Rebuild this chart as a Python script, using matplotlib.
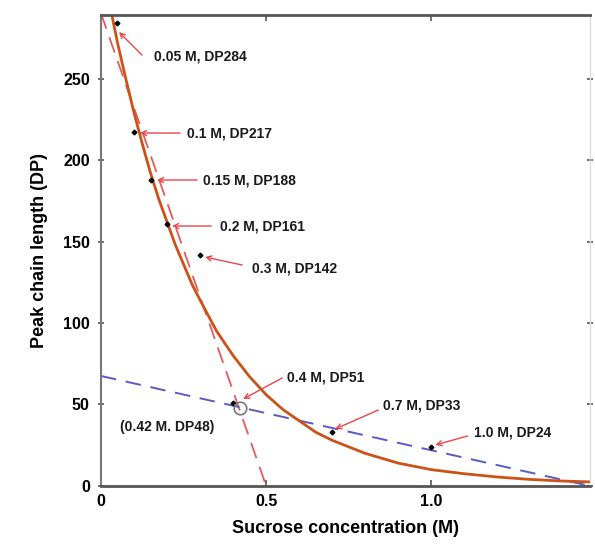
import numpy as np
import matplotlib.pyplot as plt

plt.rcParams['font.family'] = ['Liberation Sans', 'DejaVu Sans']
plt.rcParams['font.weight'] = 'bold'

# measured points (sucrose M, peak DP)
conc = [0.05, 0.1, 0.15, 0.2, 0.3, 0.4, 0.7, 1.0]
dp = [284, 217, 188, 161, 142, 51, 33, 24]
labels = ['0.05 M, DP284', '0.1 M, DP217', '0.15 M, DP188', '0.2 M, DP161',
          '0.3 M, DP142', '0.4 M, DP51', '0.7 M, DP33', '1.0 M, DP24']

# exponential trend
curve_x = [0.03, 0.05, 0.075, 0.1, 0.125, 0.15, 0.175, 0.2, 0.225, 0.25,
           0.275, 0.3, 0.35, 0.4, 0.45, 0.5, 0.55, 0.6, 0.65, 0.7, 0.75,
           0.8, 0.9, 1.0, 1.1, 1.2, 1.3, 1.4, 1.48]
curve_y = [292, 272, 250, 229, 210, 192, 176, 162, 148, 136,
           124, 114, 95, 80, 67, 56, 47, 40, 33, 28, 24,
           20, 14, 10, 7.5, 5.5, 4, 3, 2.5]

# two linear regimes
steep_x = [0.0, 0.5]
steep_y = [290, 0]
shallow_x = [0.0, 1.48]
shallow_y = [67.5, 0]

cross_pt = (0.42, 48)
cross_label = '(0.42 M. DP48)'

fig = plt.figure(figsize=(5.95, 5.45), dpi=100)
ax = fig.add_axes([0.1697, 0.1083, 0.8219, 0.8642])

ax.plot(steep_x, steep_y, color='#e8595a', lw=1.3, dashes=(9, 5))
ax.plot(shallow_x, shallow_y, color='#5a5ac8', lw=1.4, dashes=(8, 5))
ax.plot(curve_x, curve_y, color='#cc5218', lw=2.0)
ax.plot(conc, dp, ls='none', marker='D', ms=2.4, color='black')
ax.plot(*cross_pt, marker='o', ms=9, mfc='none', mec='#777777', mew=1.2)


def px(x, y):
    # pixel position in the 595x545 reference -> data coords
    return ((x - 101) / 330.0, (486 - y) / 1.63)


# (text left, text mid y, arrow tail, arrow head) in reference pixels
ann = [
    ((154, 56), (142, 55), (119, 32)),
    ((187, 133), (180, 133), (140, 133)),
    ((203, 180), (197, 180), (157, 180)),
    ((220, 226), (211, 226), (172, 226)),
    ((252, 268), (242, 265), (205, 257)),
    ((287, 378), (282, 378), (243, 399)),
    ((383, 406), (378, 410), (335, 429)),
    ((474, 433), (467, 436), (435, 445)),
]
for lab, (tpos, tail, head) in zip(labels, ann):
    ax.text(*px(*tpos), lab, fontsize=10, fontweight='bold', ha='left',
            va='center', color='#1a1a1a')
    ax.annotate('', xy=px(*head), xytext=px(*tail),
                arrowprops=dict(arrowstyle='->', color='#e8454a', lw=1.0,
                                shrinkA=0, shrinkB=0, mutation_scale=9))

ax.text(*px(120, 427), cross_label, fontsize=10, fontweight='bold',
        ha='left', va='center', color='#1a1a1a')

ax.set_xlim(0, 1.48)
ax.set_ylim(0, 289)
ax.set_xticks([0, 0.5, 1.0])
ax.set_xticklabels(['0', '0.5', '1.0'])
ax.set_yticks([0, 50, 100, 150, 200, 250])
ax.tick_params(axis='both', labelsize=11.5, width=1.2, length=4,
               color='#555555', pad=6)
ax.tick_params(axis='x', direction='in', top=True)
ax.tick_params(axis='y', direction='inout', right=True)
for t in ax.get_xticklabels() + ax.get_yticklabels():
    t.set_fontweight('bold')

ax.set_xlabel('Sucrose concentration (M)', fontsize=13, fontweight='bold',
              labelpad=8)
ax.set_ylabel('Peak chain length (DP)', fontsize=13, fontweight='bold',
              labelpad=11)

ax.spines['top'].set_color('#555555')
ax.spines['top'].set_linewidth(2)
ax.spines['bottom'].set_color('#555555')
ax.spines['bottom'].set_linewidth(2)
ax.spines['left'].set_color('#777777')
ax.spines['left'].set_linewidth(1.5)
ax.spines['right'].set_color('#dddddd')
ax.spines['right'].set_linewidth(1)

fig.savefig('out.png', dpi=100)
